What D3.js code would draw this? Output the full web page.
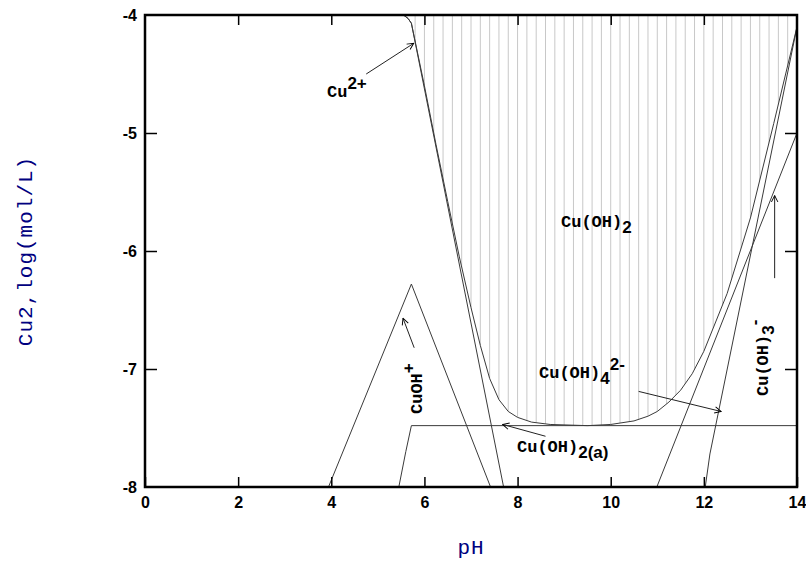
<!DOCTYPE html>
<html lang="en">
<head>
<meta charset="UTF-8">
<title>Cu solubility</title>
<script src="https://d3js.org/d3.v7.min.js"></script>
<style>
  body { margin: 0; background: #fff; }
  .tick text { font-family: "Liberation Sans Narrow", "Liberation Sans", sans-serif; font-weight: bold; font-size: 16px; fill: #000; }
  .species { font-family: "Liberation Mono", "Courier New", monospace; font-weight: bold; font-size: 17px; fill: #000; }
  .script { font-family: "Liberation Sans", sans-serif; font-weight: bold; font-size: 17px; }
  .title { font-family: "Liberation Mono", "Courier New", monospace; font-size: 21px; fill: #000080; letter-spacing: 1px; }
</style>
</head>
<body>
<svg id="chart" width="806" height="562"></svg>
<script>
// pH tick labels and log concentration tick labels
const xTicks = [0, 2, 4, 6, 8, 10, 12, 14];
const yTicks = [-4, -5, -6, -7, -8];

// species curves, [pH, log C]
const cu2 = [[5.55, -4.0], [5.65, -4.03], [5.72, -4.07], [7.7, -8.0]];
const cuOH = [[3.94, -8.0], [5.72, -6.28], [7.42, -8.0]];
const cuOH2a = [[5.45, -8.0], [5.6, -7.7], [5.72, -7.48], [14.0, -7.48]];
const cuOH3 = [[10.99, -8.0], [14.0, -5.0]];
const cuOH4 = [[12.03, -8.0], [12.13, -7.72], [14.0, -4.1]];
// total dissolved Cu = boundary of the Cu(OH)2 solid field
const total = [[5.55, -4.0], [5.65, -4.03], [5.72, -4.07], [6.0, -4.6], [6.25, -5.1], [6.5, -5.58],
  [6.75, -6.05], [7.0, -6.48], [7.2, -6.8], [7.4, -7.08], [7.6, -7.26], [7.8, -7.36], [8.0, -7.41],
  [8.3, -7.45], [8.7, -7.47], [9.5, -7.48], [10.0, -7.47], [10.5, -7.44], [10.8, -7.4], [11.0, -7.36],
  [11.25, -7.28], [11.5, -7.18], [11.75, -7.04], [12.0, -6.85], [12.5, -6.36], [13.0, -5.72],
  [13.5, -4.92], [14.0, -4.1]];

const svg = d3.select('#chart');
const mLeft = 145, mRight = 797, mTop = 15, mBottom = 487;

const x = d3.scaleLinear().domain([0, 14]).range([mLeft, mRight]);
const y = d3.scaleLinear().domain([-8, -4]).range([mBottom, mTop]);

const defs = svg.append('defs');

// hatched solid field
defs.append('clipPath').attr('id', 'solid')
  .append('path')
  .attr('d', d3.area().x(d => x(d[0])).y0(y(-4)).y1(d => y(d[1]))(total));
defs.append('clipPath').attr('id', 'plotClip')
  .append('rect').attr('x', mLeft).attr('y', mTop).attr('width', mRight - mLeft).attr('height', mBottom - mTop);

svg.append('g').attr('clip-path', 'url(#solid)')
  .selectAll('line')
  .data(d3.range(0, 14.001, 0.2))
  .enter().append('line')
  .attr('x1', d => x(d)).attr('x2', d => x(d))
  .attr('y1', mTop).attr('y2', mBottom)
  .attr('stroke', '#c8c8c8')
  .attr('stroke-width', 1);

// curves
const line = d3.line().x(d => x(d[0])).y(d => y(d[1]));
const curves = svg.append('g').attr('clip-path', 'url(#plotClip)');
[cu2, cuOH, cuOH2a, cuOH3, cuOH4, total].forEach(s => {
  curves.append('path')
    .attr('d', line(s))
    .attr('fill', 'none')
    .attr('stroke', '#3a3a3a')
    .attr('stroke-width', 1);
});

// axes
svg.append('g')
  .attr('transform', `translate(0,${mBottom})`)
  .call(d3.axisBottom(x).tickValues(xTicks).tickSize(-10).tickPadding(10).tickFormat(d => String(d)))
  .call(g => g.select('.domain').remove());
svg.append('g')
  .attr('transform', `translate(0,${mTop})`)
  .call(d3.axisTop(x).tickValues(xTicks.slice(1, -1)).tickSize(-10).tickFormat(''))
  .call(g => g.select('.domain').remove());
svg.append('g')
  .attr('transform', `translate(${mLeft},0)`)
  .call(d3.axisLeft(y).tickValues(yTicks).tickSize(-12).tickPadding(8).tickFormat(d => String(d)))
  .call(g => g.select('.domain').remove())
  .call(g => g.selectAll('.tick line').filter(d => d === -4 || d === -8).remove());
svg.append('g')
  .attr('transform', `translate(${mRight},0)`)
  .call(d3.axisRight(y).tickValues(yTicks.slice(1, -1)).tickSize(-12).tickFormat(''))
  .call(g => g.select('.domain').remove());

svg.selectAll('.tick line').attr('stroke', '#000').attr('stroke-width', 1.5);

// frame
svg.append('rect')
  .attr('x', mLeft).attr('y', mTop)
  .attr('width', mRight - mLeft).attr('height', mBottom - mTop)
  .attr('fill', 'none')
  .attr('stroke', '#000')
  .attr('stroke-width', 2.5);

// axis titles
svg.append('text').attr('class', 'title')
  .attr('x', (mLeft + mRight) / 2).attr('y', 554)
  .attr('text-anchor', 'middle')
  .text('pH');
svg.append('text').attr('class', 'title')
  .attr('transform', `translate(32,${(mTop + mBottom) / 2}) rotate(-90)`)
  .attr('text-anchor', 'middle')
  .text('Cu2,log(mol/L)');

// arrows
defs.append('marker')
  .attr('id', 'head')
  .attr('viewBox', '0 0 10 10')
  .attr('refX', 9).attr('refY', 5)
  .attr('markerWidth', 8).attr('markerHeight', 8)
  .attr('markerUnits', 'userSpaceOnUse')
  .attr('orient', 'auto')
  .append('path')
  .attr('d', 'M1,1 L9,5 L1,9')
  .attr('fill', 'none')
  .attr('stroke', '#000')
  .attr('stroke-width', 1.2);

// arrows point from label towards the curve, in data units
const arrows = [
  [[4.75, -4.5], [5.77, -4.24]],
  [[5.78, -6.82], [5.54, -6.57]],
  [[10.6, -7.19], [12.37, -7.36]],
  [[8.60, -7.57], [7.68, -7.47]],
  [[13.52, -6.23], [13.52, -5.53]]
];
arrows.forEach(a => {
  svg.append('line')
    .attr('x1', x(a[0][0])).attr('y1', y(a[0][1]))
    .attr('x2', x(a[1][0])).attr('y2', y(a[1][1]))
    .attr('stroke', '#222')
    .attr('stroke-width', 1)
    .attr('marker-end', 'url(#head)');
});

// species labels
function label(px, py, main, sub, sup, rot) {
  const t = svg.append('text').attr('class', 'species')
    .attr('transform', `translate(${px},${py})` + (rot ? ' rotate(-90)' : ''));
  t.append('tspan').text(main);
  if (sub) t.append('tspan').attr('class', 'script').attr('dy', 6).text(sub);
  if (sup) t.append('tspan').attr('class', 'script').attr('dy', sub ? -14 : -8).text(sup);
}
label(327, 97, 'Cu', null, '2+');
label(561, 227, 'Cu(OH)', '2', null);
label(539, 378, 'Cu(OH)', '4', '2-');
label(517, 452, 'Cu(OH)', '2(a)', null);
label(422, 414, 'CuOH', null, '+', true);
label(768, 396, 'Cu(OH)', '3', '-', true);
</script>
</body>
</html>
